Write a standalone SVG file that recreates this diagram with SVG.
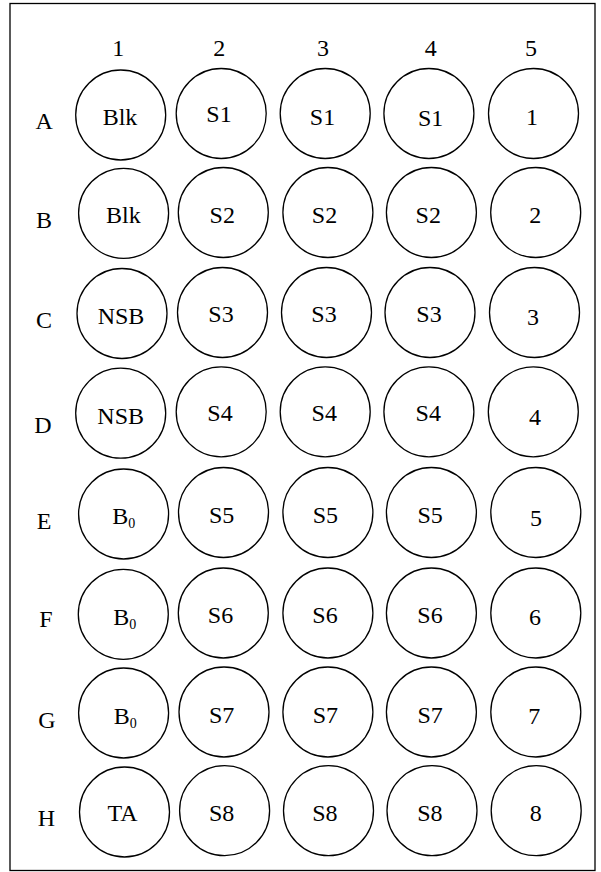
<svg xmlns="http://www.w3.org/2000/svg" width="601" height="872" viewBox="0 0 601 872">
<style>
.frame{fill:#fff;stroke:#000;stroke-width:1.3}
.well{fill:#fff;stroke:#000;stroke-width:1.3}
.t{font-family:"Liberation Serif","Times New Roman",serif;font-size:24px;fill:#000;text-anchor:middle}
.h{font-family:"Liberation Serif","Times New Roman",serif;font-size:24px;fill:#000;text-anchor:middle}
.b0{font-family:"Liberation Serif","Times New Roman",serif;font-size:24px;fill:#000}
.sub{font-size:14px}
</style>
<rect x="0" y="0" width="601" height="872" fill="#fff"/>
<rect class="frame" x="10" y="3.5" width="585" height="867"/>
<g id="connectors"/>
<g id="col-labels">
<text class="h" x="118.3" y="56">1</text>
<text class="h" x="219.2" y="56">2</text>
<text class="h" x="323" y="56">3</text>
<text class="h" x="430.8" y="56">4</text>
<text class="h" x="531" y="56">5</text>
</g>
<g id="row-labels">
<text class="h" x="44.2" y="129">A</text>
<text class="h" x="44" y="228">B</text>
<text class="h" x="44" y="328">C</text>
<text class="h" x="43" y="433">D</text>
<text class="h" x="44" y="529">E</text>
<text class="h" x="46" y="627">F</text>
<text class="h" x="47" y="728">G</text>
<text class="h" x="46.3" y="826">H</text>
</g>
<g id="A1"><circle class="well" cx="120.7" cy="115" r="45"/><text class="t" x="120" y="125">Blk</text></g>
<g id="A2"><circle class="well" cx="221.2" cy="113.5" r="45"/><text class="t" x="219" y="121.7">S1</text></g>
<g id="A3"><circle class="well" cx="325.2" cy="113.5" r="45"/><text class="t" x="322.5" y="125">S1</text></g>
<g id="A4"><circle class="well" cx="428.9" cy="113.5" r="45"/><text class="t" x="430.6" y="125.5">S1</text></g>
<g id="A5"><circle class="well" cx="533.5" cy="113.5" r="45"/><text class="t" x="532" y="125">1</text></g>

<g id="B1"><circle class="well" cx="123.6" cy="213.3" r="45"/><text class="t" x="123.4" y="223">Blk</text></g>
<g id="B2"><circle class="well" cx="223.3" cy="212.5" r="45"/><text class="t" x="222.3" y="223">S2</text></g>
<g id="B3"><circle class="well" cx="327.9" cy="212.5" r="45"/><text class="t" x="324.5" y="223">S2</text></g>
<g id="B4"><circle class="well" cx="431.4" cy="212.5" r="45"/><text class="t" x="428.3" y="223">S2</text></g>
<g id="B5"><circle class="well" cx="535.7" cy="212.5" r="45"/><text class="t" x="535.2" y="223">2</text></g>

<g id="C1"><circle class="well" cx="122" cy="313.5" r="45"/><text class="t" x="121" y="324">NSB</text></g>
<g id="C2"><circle class="well" cx="222.5" cy="312.5" r="45"/><text class="t" x="221" y="322">S3</text></g>
<g id="C3"><circle class="well" cx="326.5" cy="312.5" r="45"/><text class="t" x="324" y="322">S3</text></g>
<g id="C4"><circle class="well" cx="430" cy="312.5" r="45"/><text class="t" x="429" y="322">S3</text></g>
<g id="C5"><circle class="well" cx="534.5" cy="312.5" r="45"/><text class="t" x="533" y="325">3</text></g>

<g id="D1"><circle class="well" cx="120.7" cy="413.2" r="45"/><text class="t" x="120.7" y="424">NSB</text></g>
<g id="D2"><circle class="well" cx="221.2" cy="411.8" r="45"/><text class="t" x="220" y="421">S4</text></g>
<g id="D3"><circle class="well" cx="325.2" cy="411.8" r="45"/><text class="t" x="324.3" y="421">S4</text></g>
<g id="D4"><circle class="well" cx="428.9" cy="411.8" r="45"/><text class="t" x="428.3" y="421">S4</text></g>
<g id="D5"><circle class="well" cx="533.3" cy="411.8" r="45"/><text class="t" x="534.9" y="425">4</text></g>

<g id="E1"><circle class="well" cx="123.6" cy="514" r="45"/><text class="b0" x="112.3" y="524">B<tspan class="sub" dy="4">0</tspan></text></g>
<g id="E2"><circle class="well" cx="223.5" cy="512.5" r="45"/><text class="t" x="221.7" y="523">S5</text></g>
<g id="E3"><circle class="well" cx="327.9" cy="512.5" r="45"/><text class="t" x="325.4" y="523">S5</text></g>
<g id="E4"><circle class="well" cx="431.4" cy="512.5" r="45"/><text class="t" x="430.2" y="523">S5</text></g>
<g id="E5"><circle class="well" cx="535.8" cy="512.5" r="45"/><text class="t" x="536" y="525.5">5</text></g>

<g id="F1"><circle class="well" cx="123.3" cy="614.3" r="45"/><text class="b0" x="113.3" y="625">B<tspan class="sub" dy="4">0</tspan></text></g>
<g id="F2"><circle class="well" cx="223.3" cy="613" r="45"/><text class="t" x="220.5" y="623.3">S6</text></g>
<g id="F3"><circle class="well" cx="327.9" cy="613" r="45"/><text class="t" x="325" y="623.3">S6</text></g>
<g id="F4"><circle class="well" cx="431.4" cy="613" r="45"/><text class="t" x="430" y="623.3">S6</text></g>
<g id="F5"><circle class="well" cx="535.8" cy="613" r="45"/><text class="t" x="535" y="625">6</text></g>

<g id="G1"><circle class="well" cx="123.6" cy="713" r="45"/><text class="b0" x="113.8" y="724">B<tspan class="sub" dy="4">0</tspan></text></g>
<g id="G2"><circle class="well" cx="224" cy="712" r="45"/><text class="t" x="221.6" y="723.3">S7</text></g>
<g id="G3"><circle class="well" cx="327.9" cy="712" r="45"/><text class="t" x="325.4" y="723.3">S7</text></g>
<g id="G4"><circle class="well" cx="431.4" cy="712" r="45"/><text class="t" x="430.2" y="723.3">S7</text></g>
<g id="G5"><circle class="well" cx="535.8" cy="712" r="45"/><text class="t" x="534.3" y="724">7</text></g>

<g id="H1"><circle class="well" cx="124.5" cy="812" r="45"/><text class="t" x="122.5" y="820.5">TA</text></g>
<g id="H2"><circle class="well" cx="224.6" cy="810.7" r="45"/><text class="t" x="221.7" y="821">S8</text></g>
<g id="H3"><circle class="well" cx="328.5" cy="810.7" r="45"/><text class="t" x="324.9" y="821">S8</text></g>
<g id="H4"><circle class="well" cx="432" cy="810.7" r="45"/><text class="t" x="429.9" y="821">S8</text></g>
<g id="H5"><circle class="well" cx="536.2" cy="810.7" r="45"/><text class="t" x="535.7" y="820.5">8</text></g>
</svg>
